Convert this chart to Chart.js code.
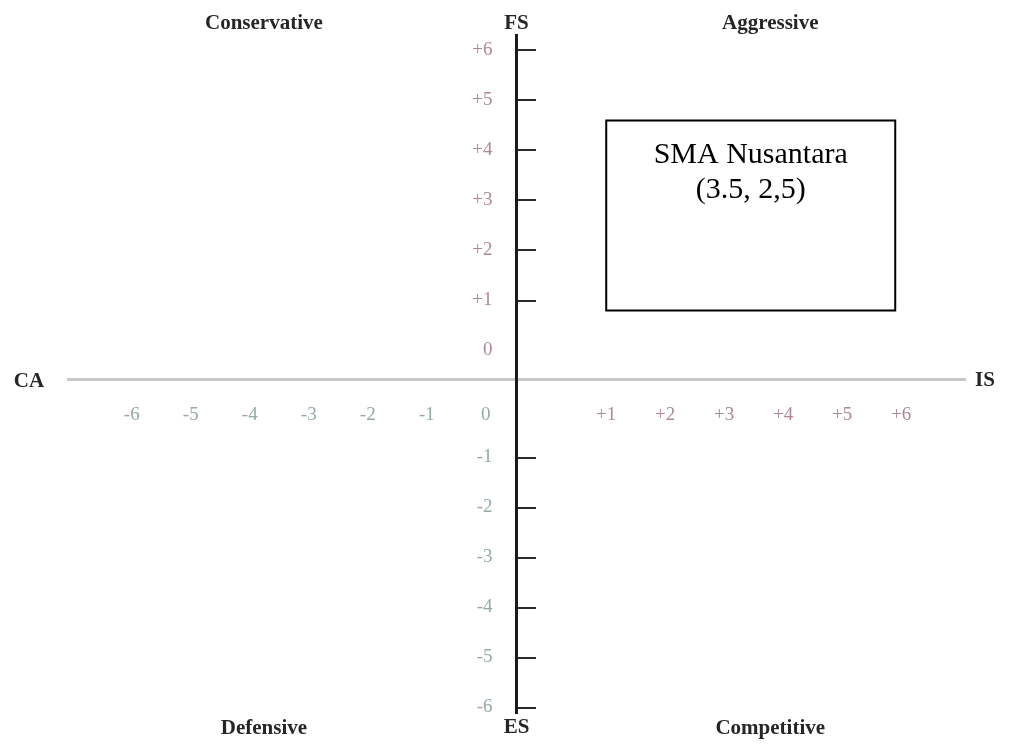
<!DOCTYPE html>
<html>
<head>
<meta charset="utf-8">
<script src="https://cdn.jsdelivr.net/npm/chart.js@4.4.1/dist/chart.umd.min.js"></script>
<style>
html,body{margin:0;padding:0;background:#fff;}
#wrap{width:1021px;height:744px;position:relative;}
</style>
</head>
<body>
<div id="wrap"><canvas id="spaceChart"></canvas></div>
<script>
// tick values
var xNegTicks = [-6, -5, -4, -3, -2, -1, 0];
var xPosTicks = [1, 2, 3, 4, 5, 6];
var yPosTicks = [6, 5, 4, 3, 2, 1, 0];
var yNegTicks = [-1, -2, -3, -4, -5, -6];

// the plotted company
var pointName = ["SMA Nusantara"];
var pointX = [3.5];
var pointY = [2.5];
var pointText = ["(3.5, 2,5)"];

var quadrants = ["Conservative", "Aggressive", "Defensive", "Competitive"];
var axisNames = ["FS", "ES", "CA", "IS"];

// the axes are "broken": each side is pushed away from the centre line
var X_GAP = 0.52, Y_GAP = 0.57;
var POS_COLOR = "#ad8893", NEG_COLOR = "#93aba1";

function fmt(v){
	return v > 0 ? "+" + v : String(v);
}

// build tick lists: display position, label, colour
var xTicks = [], yTicks = [];
for(var i = 0; i < xNegTicks.length; i++){
	xTicks.push({pos: xNegTicks[i] - X_GAP, label: fmt(xNegTicks[i]), color: NEG_COLOR});
}
for(var i = 0; i < xPosTicks.length; i++){
	xTicks.push({pos: xPosTicks[i] + X_GAP, label: fmt(xPosTicks[i]), color: POS_COLOR});
}
for(var i = 0; i < yPosTicks.length; i++){
	yTicks.push({pos: yPosTicks[i] + Y_GAP, label: fmt(yPosTicks[i]), color: POS_COLOR, mark: yPosTicks[i] != 0});
}
// lower "0" is written by the x axis already
for(var i = 0; i < yNegTicks.length; i++){
	yTicks.push({pos: yNegTicks[i] - Y_GAP, label: fmt(yNegTicks[i]), color: NEG_COLOR, mark: true});
}

var labelPlugin = {
	id: "spaceLabels",
	afterDraw: function(chart){
		var ctx = chart.ctx, xs = chart.scales.x, ys = chart.scales.y, area = chart.chartArea;
		ctx.save();
		ctx.textAlign = "center";
		ctx.textBaseline = "middle";
		ctx.fillStyle = "#262626";
		ctx.font = '600 21px "Liberation Serif"';

		var x0 = xs.getPixelForValue(0), y0 = ys.getPixelForValue(0);
		var leftQ = xs.getPixelForValue(-4.28), rightQ = xs.getPixelForValue(4.3);
		var topY = area.top - 11, botY = area.bottom + 16;

		ctx.fillText(quadrants[0], leftQ, topY);
		ctx.fillText(quadrants[1], rightQ, topY);
		ctx.fillText(quadrants[2], leftQ, botY);
		ctx.fillText(quadrants[3], rightQ, botY);

		ctx.fillText(axisNames[0], x0, topY);
		ctx.fillText(axisNames[1], x0, botY - 1);
		ctx.fillText(axisNames[2], 29, y0 + 3);
		ctx.fillText(axisNames[3], 985, y0 + 2);

		// label box round the point
		var px = xs.getPixelForValue(pointX[0] + X_GAP);
		var py = ys.getPixelForValue(pointY[0] + Y_GAP);
		var bw = 289, bh = 190;
		var bx = px - 3 - bw / 2, by = py - 10 - bh / 2;
		ctx.fillStyle = "#fff";
		ctx.fillRect(bx, by, bw, bh);
		ctx.strokeStyle = "#000";
		ctx.lineWidth = 2;
		ctx.strokeRect(bx, by, bw, bh);
		ctx.fillStyle = "#000";
		ctx.font = '30px "Liberation Serif"';
		ctx.fillText(pointName[0], bx + bw / 2, by + 35);
		ctx.fillText(pointText[0], bx + bw / 2, by + 70);
		ctx.restore();
	}
};

var ctx = document.getElementById("spaceChart").getContext("2d");
var spaceChart = new Chart(ctx, {
	type: "scatter",
	data: {
		datasets: [{
			label: pointName[0],
			data: [{x: pointX[0] + X_GAP, y: pointY[0] + Y_GAP}],
			pointRadius: 0
		}]
	},
	options: {
		responsive: true,
		maintainAspectRatio: false,
		animation: false,
		layout: {padding: {left: 68, right: 56, top: 35, bottom: 31}},
		plugins: {legend: {display: false}, tooltip: {enabled: false}},
		scales: {
			x: {
				type: "linear",
				min: -7.6,
				max: 7.6,
				position: {y: 0},
				afterBuildTicks: function(scale){
					scale.ticks = xTicks.map(function(t){ return {value: t.pos}; });
				},
				afterFit: function(scale){
					// keep it from eating chart height
					scale.height = 0;
					scale.paddingTop = scale.paddingBottom = 0;
				},
				grid: {display: false, drawTicks: false},
				border: {display: true, color: "#c8c8c8", width: 3},
				ticks: {
					autoSkip: false,
					maxRotation: 0,
					padding: 25,
					font: {family: "Liberation Serif", size: 19},
					color: function(c){ return xTicks[c.index] ? xTicks[c.index].color : NEG_COLOR; },
					callback: function(value, index){ return xTicks[index].label; }
				}
			},
			y: {
				type: "linear",
				min: -6.68,
				max: 6.88,
				position: "center",
				afterBuildTicks: function(scale){
					scale.ticks = yTicks.map(function(t){ return {value: t.pos}; });
				},
				afterFit: function(scale){
					scale.width = 0;
					scale.paddingTop = scale.paddingBottom = 0;
				},
				grid: {
					display: true,
					drawOnChartArea: false,
					drawTicks: true,
					tickLength: -21,
					lineWidth: 2,
					color: function(c){ return (yTicks[c.index] && yTicks[c.index].mark) ? "#2a2a2a" : "rgba(0,0,0,0)"; }
				},
				border: {display: true, color: "#1a1a1a", width: 3, z: 1},
				ticks: {
					autoSkip: false,
					padding: 45,
					font: {family: "Liberation Serif", size: 19},
					color: function(c){ return yTicks[c.index] ? yTicks[c.index].color : POS_COLOR; },
					callback: function(value, index){ return yTicks[index].label; }
				}
			}
		}
	},
	plugins: [labelPlugin]
});
</script>
</body>
</html>
